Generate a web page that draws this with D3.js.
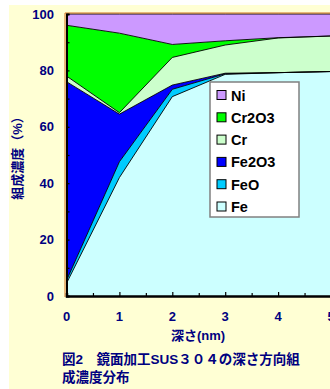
<!DOCTYPE html>
<html>
<head>
<meta charset="utf-8">
<script src="https://cdn.jsdelivr.net/npm/d3@7"></script>
<style>
	body { margin: 0; background: #fff; }
	svg { display: block; }
	text { font-family: "Liberation Sans", Arial, "Noto Sans CJK JP", sans-serif; font-weight: bold; }
</style>
</head>
<body>
<svg id="chart" width="330" height="389"></svg>
<script>
// 深さ (nm)
let depth = [0, 1, 2, 3, 4, 5];
// 各成分 (%) 下から順に積み上げ
let seriesNames = ['Fe', 'FeO', 'Fe2O3', 'Cr', 'Cr2O3', 'Ni'];
let fe = [4.5, 42, 70.7, 78.6, 79.2, 79.6];
let feo = [1.0, 5.6, 2.6, 0.2, 0, 0];
let fe2o3 = [70.5, 16.9, 1.5, 0.2, 0, 0];
let cr = [2, 0.5, 9.8, 10, 12.3, 12.6];
let cr2o3 = [18, 28.2, 4.6, 1.5, 0.1, 0];
let ni = [4, 6.8, 10.8, 9.5, 8.4, 7.8];
let yTicks = [0, 20, 40, 60, 80, 100];
let xTicks = [0, 1, 2, 3, 4, 5];

let colors = {
	Fe: '#CCFFFF',
	FeO: '#00CCFF',
	Fe2O3: '#0000FF',
	Cr: '#CCFFCC',
	Cr2O3: '#00FF00',
	Ni: '#CC99FF'
};

let rows = depth.map(function (d, i) {
	return { depth: d, Fe: fe[i], FeO: feo[i], Fe2O3: fe2o3[i], Cr: cr[i], Cr2O3: cr2o3[i], Ni: ni[i] };
});

let svg = d3.select('#chart');
let navy = '#000080';

// 背景
svg.append('rect').attr('x', 9).attr('y', 5).attr('width', 330).attr('height', 389).attr('fill', '#FFFFD4');

let x = d3.scaleLinear().domain([0, 5]).range([66.5, 331]);
let y = d3.scaleLinear().domain([0, 100]).range([296, 14]);

let stack = d3.stack().keys(seriesNames);
let layers = stack(rows);

let area = d3.area()
	.x(function (d) { return x(d.data.depth); })
	.y0(function (d) { return y(d[0]); })
	.y1(function (d) { return y(d[1]); });

let line = d3.line()
	.x(function (d) { return x(d.data.depth); })
	.y(function (d) { return y(d[1]); });

let plot = svg.append('g');

plot.selectAll('path.area').data(layers).enter().append('path')
	.attr('class', 'area')
	.attr('fill', function (d) { return colors[d.key]; })
	.attr('d', area);

plot.selectAll('path.edge').data(layers).enter().append('path')
	.attr('class', 'edge')
	.attr('fill', 'none')
	.attr('stroke', '#000')
	.attr('stroke-width', 0.9)
	.attr('d', line);

// 枠
plot.append('line').attr('x1', 65).attr('x2', 330).attr('y1', 13).attr('y2', 13).attr('stroke', '#D07020').attr('stroke-width', 1);
plot.append('line').attr('x1', 65).attr('x2', 65).attr('y1', 13).attr('y2', 297).attr('stroke', '#D07020').attr('stroke-width', 1);

// Y軸
let yAxis = d3.axisLeft(y).tickValues(d3.range(0, 101, 10)).tickSize(-3).tickFormat('');
let gy = svg.append('g').attr('transform', 'translate(66.5,0)').call(yAxis);
gy.select('.domain').attr('stroke', '#000').attr('stroke-width', 2);
gy.selectAll('.tick line').attr('stroke', '#000').attr('stroke-width', 1.2);

svg.selectAll('text.ylab').data(yTicks).enter().append('text')
	.attr('class', 'ylab')
	.attr('x', 54).attr('y', function (d) { return y(d) + 4.5; })
	.attr('text-anchor', 'end')
	.attr('font-size', 13)
	.attr('fill', navy)
	.text(function (d) { return d; });

// X軸
let xAxis = d3.axisBottom(x).tickValues(d3.range(0, 5.01, 0.5)).tickSize(-3).tickFormat('');
let gx = svg.append('g').attr('transform', 'translate(0,296)').call(xAxis);
gx.select('.domain').attr('stroke', '#000').attr('stroke-width', 2.5);
gx.selectAll('.tick line').attr('stroke', '#000').attr('stroke-width', 1.2)
	.attr('y2', function (d) { return d % 1 === 0 ? -4 : -3; });

svg.selectAll('text.xlab').data(xTicks).enter().append('text')
	.attr('class', 'xlab')
	.attr('x', function (d) { return x(d); }).attr('y', 321)
	.attr('text-anchor', 'middle')
	.attr('font-size', 13)
	.attr('fill', navy)
	.text(function (d) { return d; });

// 軸ラベル
svg.append('text')
	.attr('transform', 'translate(22,155) rotate(-90)')
	.attr('text-anchor', 'middle')
	.attr('font-size', 13)
	.attr('fill', navy)
	.text('組成濃度（%）');

svg.append('text')
	.attr('x', 198).attr('y', 340)
	.attr('text-anchor', 'middle')
	.attr('font-size', 13)
	.attr('fill', navy)
	.text('深さ(nm)');

// 図タイトル
svg.append('text').attr('x', 62).attr('y', 364).attr('font-size', 13.5).attr('fill', navy)
	.text('図2　鏡面加工SUS３０４の深さ方向組');
svg.append('text').attr('x', 62).attr('y', 382).attr('font-size', 13.5).attr('fill', navy)
	.text('成濃度分布');

// 凡例
let legend = svg.append('g').attr('transform', 'translate(210,82)');
legend.append('rect').attr('width', 89).attr('height', 135)
	.attr('fill', '#fff').attr('stroke', '#808080').attr('stroke-width', 1.5);

let legendItems = seriesNames.slice().reverse();
let item = legend.selectAll('g.item').data(legendItems).enter().append('g')
	.attr('class', 'item')
	.attr('transform', function (d, i) { return 'translate(7,' + (13 + i * 22.3) + ')'; });
item.append('rect').attr('x', 0).attr('y', -4.5).attr('width', 9).attr('height', 9)
	.attr('fill', function (d) { return colors[d]; }).attr('stroke', '#000').attr('stroke-width', 1);
item.append('text').attr('x', 14).attr('y', 5.5).attr('font-size', 14.5).attr('fill', '#000')
	.text(function (d) { return d; });
</script>
</body>
</html>
